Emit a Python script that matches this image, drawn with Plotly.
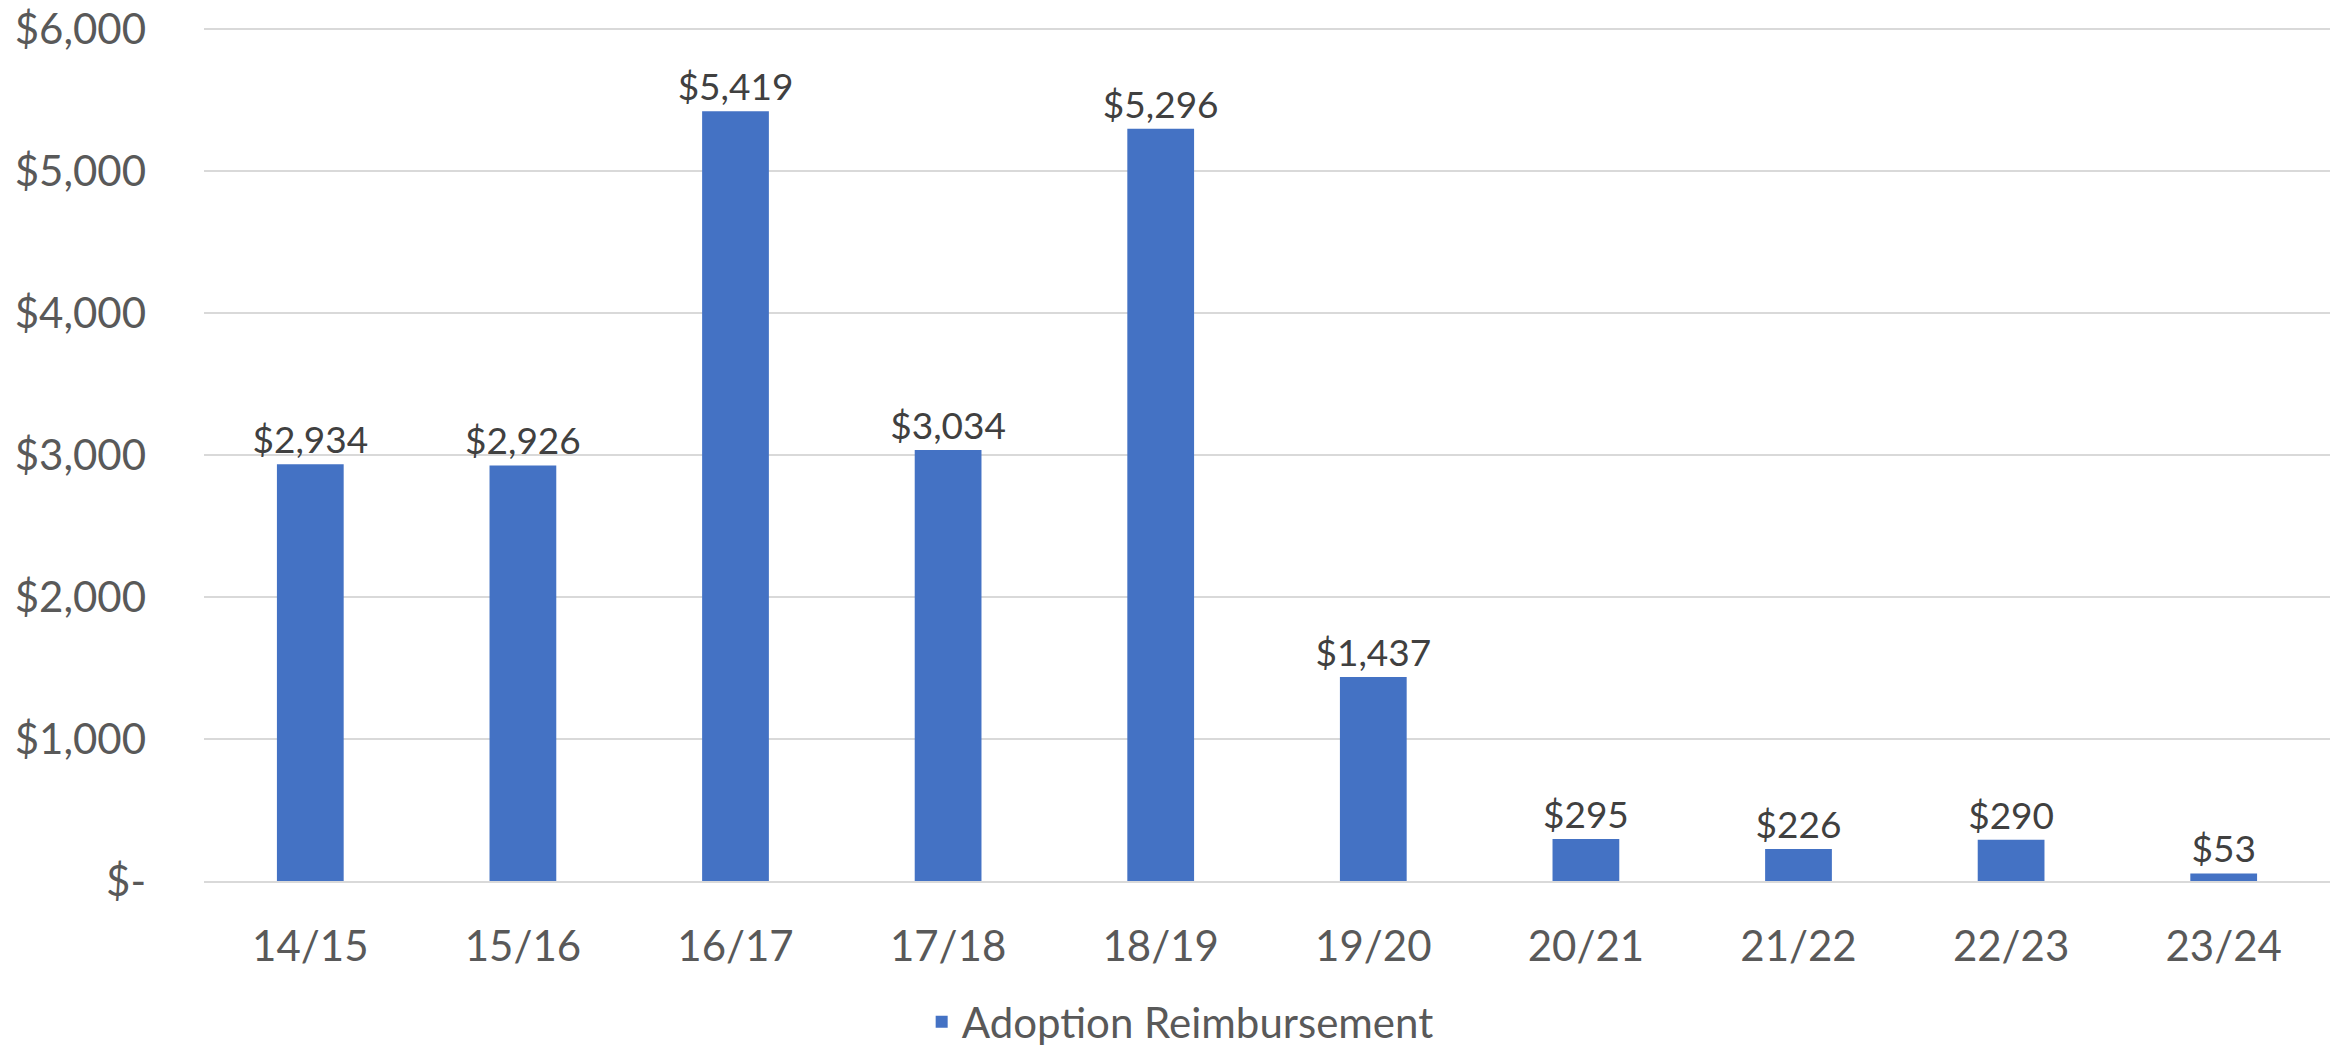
import plotly.graph_objects as go

categories = ["14/15", "15/16", "16/17", "17/18", "18/19", "19/20", "20/21", "21/22", "22/23", "23/24"]
values = [2934, 2926, 5419, 3034, 5296, 1437, 295, 226, 290, 53]
series_name = "Adoption Reimbursement"
y_tick_vals = [0, 1000, 2000, 3000, 4000, 5000, 6000]
y_tick_text = ["$-", "$1,000", "$2,000", "$3,000", "$4,000", "$5,000", "$6,000"]

FONT = "Lato"

fig = go.Figure()
fig.add_trace(go.Bar(
    x=categories,
    y=values,
    name=series_name,
    marker=dict(color="#4472C4", line=dict(width=0)),
    texttemplate="$%{y:,}",
    textposition="outside",
    constraintext="none",
    textfont=dict(family=FONT, size=37, color="#404040"),
    cliponaxis=False,
    showlegend=True,
))

fig.update_layout(
    width=2335,
    height=1040,
    margin=dict(l=196, r=13, t=18, b=167, autoexpand=False),
    paper_bgcolor="white",
    plot_bgcolor="white",
    bargap=0.686,
    font=dict(family=FONT, size=42, color="#595959"),
    showlegend=True,
    legend=dict(
        orientation="h",
        xref="container", yref="container",
        x=0.502, y=0.025,
        xanchor="center", yanchor="middle",
        font=dict(family=FONT, size=42, color="#595959"),
        bgcolor="rgba(0,0,0,0)",
    ),
    xaxis=dict(
        showgrid=False,
        showline=True,
        linecolor="#D9D9D9",
        linewidth=2,
        ticks="",
        tickfont=dict(family=FONT, size=42, color="#595959"),
        ticklabelstandoff=28,
    ),
    yaxis=dict(
        range=[0, 6020],
        tickvals=y_tick_vals,
        ticktext=y_tick_text,
        showgrid=True,
        gridcolor="#D9D9D9",
        gridwidth=1.5,
        zeroline=False,
        showline=False,
        ticks="",
        tickfont=dict(family=FONT, size=42, color="#595959"),
        ticklabelstandoff=57,
        ticklabeloverflow="allow",
    ),
)

fig.write_html("out.html")
